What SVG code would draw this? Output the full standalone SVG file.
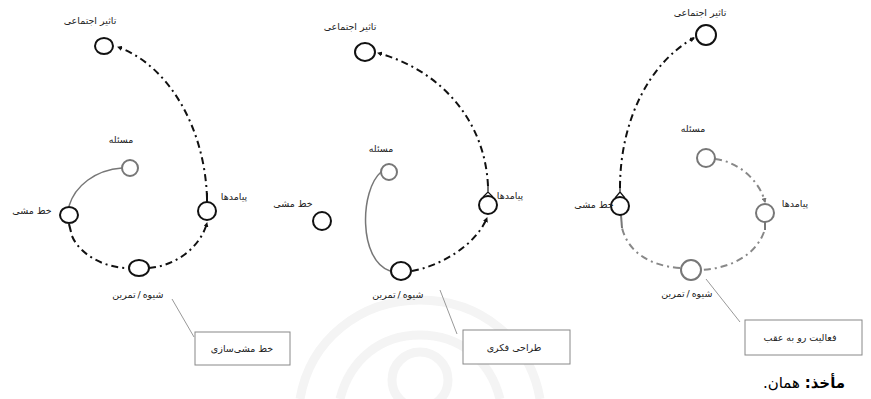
<svg xmlns="http://www.w3.org/2000/svg" width="871" height="399" viewBox="0 0 871 399">
<style>
text{font-family:"DejaVu Sans",sans-serif;font-size:9.5px;fill:#222;direction:rtl;text-anchor:middle}
.node{fill:#fff;stroke:#111;stroke-width:2}
.gnode{fill:#fff;stroke:#777;stroke-width:2}
.dd{fill:none;stroke:#111;stroke-width:2;stroke-dasharray:7 4 2 4}
.gdd{fill:none;stroke:#888;stroke-width:2;stroke-dasharray:7 4 2 4}
.solid{fill:none;stroke:#777;stroke-width:1.5}
.stub{fill:none;stroke:#111;stroke-width:2}
.tail{fill:none;stroke:#111;stroke-width:1.2}
.gstub{fill:none;stroke:#777;stroke-width:2}
.lead{fill:none;stroke:#999;stroke-width:1}
.box{fill:#fff;stroke:#888;stroke-width:1}
.wm{fill:none;stroke:#f4f4f4;stroke-width:9}
</style>
<defs>
<marker id="ah" markerWidth="5" markerHeight="5" refX="4" refY="2.5" orient="auto" markerUnits="userSpaceOnUse"><path d="M0,0 L5,2.5 L0,5 z" fill="#111"/></marker>
<marker id="gah" markerWidth="5" markerHeight="5" refX="4" refY="2.5" orient="auto" markerUnits="userSpaceOnUse"><path d="M0,0 L5,2.5 L0,5 z" fill="#777"/></marker>
</defs>
<g id="watermark">
<path class="wm" d="M300,399 C310,340 360,300 420,300 C480,300 530,340 540,399"/>
<path class="wm" d="M340,399 C350,360 380,335 420,335 C460,335 490,360 500,399"/>
<circle class="wm" cx="420" cy="380" r="28"/>
</g>
<g id="connectors">
<!-- diagram 1 -->
<path class="dd" d="M207,198 C205,130 170,66 118,47" marker-end="url(#ah)"/>
<path class="solid" d="M122,168 C95,170 75,186 69,206"/>
<path class="stub" d="M69,224 L71,232"/>
<path class="dd" d="M72,236 C80,255 105,268 128,268"/>
<path class="dd" d="M149,268 C175,266 200,248 207,223" marker-end="url(#ah)"/>
<path class="stub" d="M207,193 L207,202"/>
<path class="lead" d="M172,299 L194,337"/>
<!-- diagram 2 -->
<path class="dd" d="M488,186 C485,120 440,70 378,53" marker-end="url(#ah)"/>
<path class="solid" d="M381,172 C360,190 358,260 390,271"/>
<path class="dd" d="M412,271 C440,266 475,246 487,218" marker-end="url(#ah)"/>
<path class="tail" d="M488,185 L488,193 M483,197 L488,192 L493,197"/>
<path class="lead" d="M440,290 L457,334"/>
<!-- diagram 3 -->
<path class="dd" d="M620,188 C620,120 650,62 694,38" marker-end="url(#ah)"/>
<path class="tail" d="M620,187 L620,193 M615,198 L620,192 L625,198"/>
<path class="gdd" d="M715,159 C740,162 760,182 765,202" marker-end="url(#gah)"/>
<path class="gstub" d="M765,222 L765,230"/>
<path class="gdd" d="M764,232 C755,256 730,268 702,270"/>
<path class="gdd" d="M680,268 C650,266 628,252 622,228"/>
<path class="gstub" d="M621,215 L622,228"/>
<path class="lead" d="M706,279 L740,322"/>
</g>
<g id="d1-taasir"><ellipse class="node" cx="104" cy="46" rx="9" ry="8"/><text x="90" y="24">تاثیر اجتماعی</text></g>
<g id="d1-masale"><circle class="gnode" cx="130" cy="168" r="8"/><text x="121" y="143">مسئله</text></g>
<g id="d1-khat"><ellipse class="node" cx="69" cy="215" rx="9" ry="8"/><text x="32" y="214">خط مشی</text></g>
<g id="d1-payamad"><ellipse class="node" cx="207" cy="211" rx="9" ry="9"/><text x="234" y="200">پیامدها</text></g>
<g id="d1-tamrin"><ellipse class="node" cx="139" cy="268" rx="10" ry="8"/><text x="124" y="298">تمرین</text><text x="139" y="298">/</text><text x="153" y="298">شیوه</text></g>
<g id="d1-box"><rect class="box" x="195" y="332" width="95" height="33"/><text x="242" y="352">خط مشی‌سازی</text></g>

<g id="d2-taasir"><ellipse class="node" cx="365" cy="52" rx="10" ry="9"/><text x="350" y="30">تاثیر اجتماعی</text></g>
<g id="d2-masale"><circle class="gnode" cx="389" cy="172" r="8"/><text x="381" y="152">مسئله</text></g>
<g id="d2-khat"><circle class="node" cx="322" cy="221" r="9"/><text x="293" y="207">خط مشی</text></g>
<g id="d2-payamad"><ellipse class="node" cx="488" cy="205" rx="9" ry="9"/><text x="510" y="199">پیامدها</text></g>
<g id="d2-tamrin"><ellipse class="node" cx="401" cy="271" rx="10" ry="9"/><text x="384" y="298">تمرین</text><text x="399" y="298">/</text><text x="413" y="298">شیوه</text></g>
<g id="d2-box"><rect class="box" x="463" y="330" width="107" height="34"/><text x="514" y="351">طراحی فکری</text></g>

<g id="d3-taasir"><circle class="node" cx="706" cy="35" r="10"/><text x="700" y="16">تاثیر اجتماعی</text></g>
<g id="d3-masale"><circle class="gnode" cx="706" cy="158" r="9"/><text x="693" y="132">مسئله</text></g>
<g id="d3-khat"><circle class="node" cx="620" cy="206" r="9"/><text x="594" y="208">خط مشی</text></g>
<g id="d3-payamad"><circle class="gnode" cx="765" cy="213" r="9"/><text x="795" y="207">پیامدها</text></g>
<g id="d3-tamrin"><circle class="gnode" cx="691" cy="270" r="10"/><text x="673" y="297">تمرین</text><text x="688" y="297">/</text><text x="702" y="297">شیوه</text></g>
<g id="d3-box"><rect class="box" x="745" y="320" width="117" height="35"/><text x="800" y="341">فعالیت رو به عقب</text></g>

<text x="804" y="388" style="font-size:15px;fill:#000"><tspan style="font-weight:bold">مأخذ:</tspan> همان.</text>
</svg>
